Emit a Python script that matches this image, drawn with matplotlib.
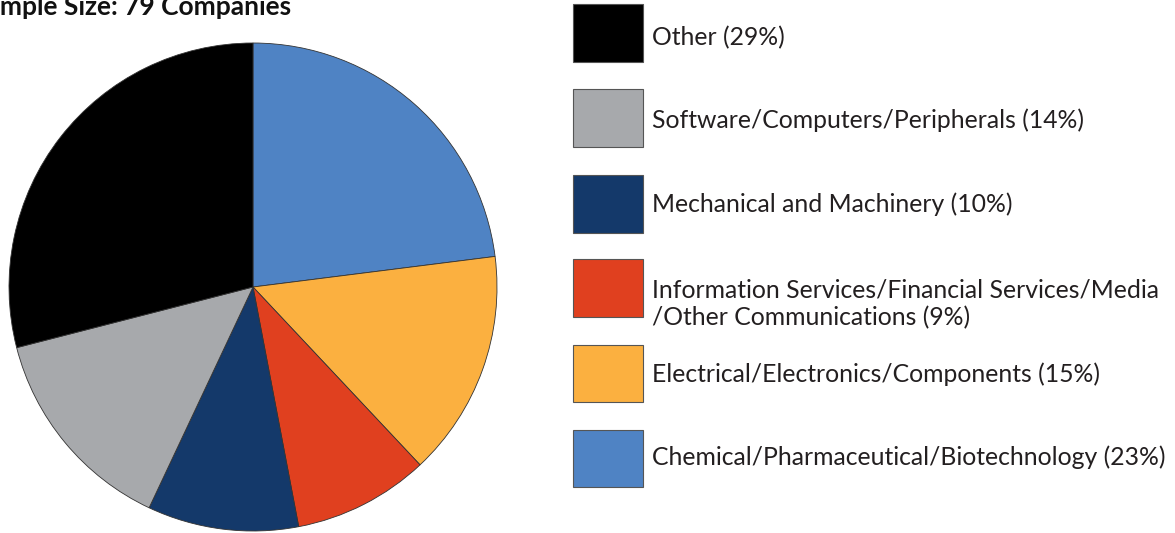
import matplotlib.pyplot as plt
from matplotlib.patches import Rectangle

# slices, clockwise from 12 o'clock
sectores = ['Chemical/Pharmaceutical/Biotechnology',
            'Electrical/Electronics/Components',
            'Information Services/Financial Services/Media\n/Other Communications',
            'Mechanical and Machinery',
            'Software/Computers/Peripherals',
            'Other']
percentagens = [23, 15, 9, 10, 14, 29]
cores = ['#4f83c4', '#fbb040', '#e0401f', '#14396a', '#a7a9ac', '#000000']

# legend order (top to bottom)
ordem_legenda = [5, 4, 3, 2, 1, 0]

fig = plt.figure(figsize=(11.75, 5.33), dpi=100)

# pie
cx, cy, r = 253, 287, 244
ax = fig.add_axes([(cx - r) / 1175, (533 - cy - r) / 533, 2 * r / 1175, 2 * r / 533])
ax.pie(percentagens, colors=cores, startangle=90, counterclock=False,
       wedgeprops=dict(edgecolor='#333333', linewidth=0.6))
ax.set_xlim(-1, 1)
ax.set_ylim(-1, 1)
ax.set_aspect('auto')
ax.axis('off')

# overlay in pixel coordinates for title and legend
ov = fig.add_axes([0, 0, 1, 1])
ov.set_xlim(0, 1175)
ov.set_ylim(533, 0)
ov.axis('off')

# the title is cut by the left edge in the original as well
ov.text(291, 15, 'Sample Size: 79 Companies', ha='right', va='baseline',
        fontsize=19, fontweight='bold', family='Lato', color='#111111')

topos = [4, 89, 175, 259, 345, 430]
alturas = [58, 58, 58, 58, 57, 57]
linha_base = [45, 128, 212, 297, 382, 465]
for k, i in enumerate(ordem_legenda):
    ov.add_patch(Rectangle((573, topos[k]), 70, alturas[k], facecolor=cores[i],
                           edgecolor='#555555', linewidth=0.8))
    linhas = f'{sectores[i]} ({percentagens[i]}%)'.split('\n')
    for j, linha in enumerate(linhas):
        ov.text(652, linha_base[k] + 28 * j, linha, ha='left', va='baseline',
                fontsize=17.8, family='Lato', color='#231f20')

fig.savefig('out.png', dpi=100)
